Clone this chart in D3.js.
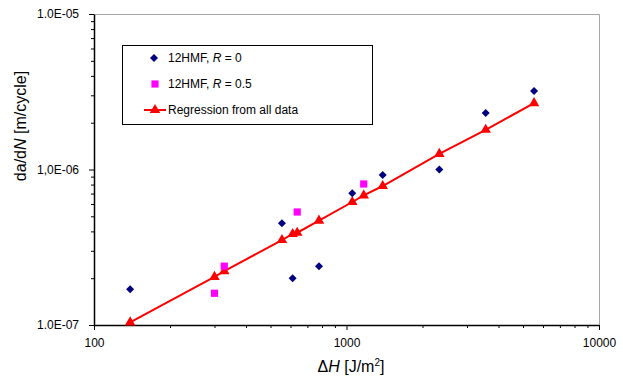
<!DOCTYPE html>
<html>
<head>
<meta charset="utf-8">
<script src="https://cdn.jsdelivr.net/npm/d3@7"></script>
<style>
  body { margin: 0; background: #fff; }
  svg { display: block; font-family: "Liberation Sans", Arial, sans-serif; }
</style>
</head>
<body>
<div id="chart"></div>
<script>
// 12HMF, R = 0
const r0X = [139, 555, 612, 778, 1054, 1391, 2331, 3558, 5530];
const r0Y = [1.70e-7, 4.51e-7, 2.0e-7, 2.39e-7, 7.03e-7, 9.22e-7, 1.0e-6, 2.31e-6, 3.2e-6];

// 12HMF, R = 0.5
const r05X = [300, 328, 638, 1170];
const r05Y = [1.60e-7, 2.39e-7, 5.33e-7, 8.07e-7];

// regression from all data
const regX = [139, 300, 328, 555, 612, 638, 778, 1054, 1170, 1391, 2331, 3558, 5530];
const regY = [1.04e-7, 2.04e-7, 2.22e-7, 3.52e-7, 3.85e-7, 3.92e-7, 4.69e-7, 6.18e-7, 6.82e-7, 7.83e-7, 1.26e-6, 1.80e-6, 2.67e-6];

const xTicks = [100, 1000, 10000];
const xTickLabels = ["100", "1000", "10000"];
const yTicks = [1e-7, 1e-6, 1e-5];
const yTickLabels = ["1.0E-07", "1,0E-06", "1.0E-05"];

const width = 623, height = 381;
const plotL = 94, plotR = 599, plotT = 14, plotB = 325;

const svg = d3.select("#chart").append("svg")
    .attr("width", width)
    .attr("height", height);

const x = d3.scaleLog().domain([100, 10000]).range([plotL, plotR]);
const y = d3.scaleLog().domain([1e-7, 1e-5]).range([plotB, plotT]);

// minor ticks: 2..9 in each decade
const minorX = [], minorY = [];
[100, 1000].forEach(d => { for (let k = 2; k <= 9; k++) minorX.push(d * k); });
[1e-7, 1e-6].forEach(d => { for (let k = 2; k <= 9; k++) minorY.push(d * k); });

// plot frame (top/right grey)
svg.append("path")
    .attr("d", `M${plotL},${plotT + 0.5}H${plotR + 0.5}V${plotB}`)
    .attr("fill", "none")
    .attr("stroke", "#a6a6a6")
    .attr("stroke-width", 1);

// x axis
const gx = svg.append("g").attr("transform", `translate(0,${plotB})`);
gx.append("g")
    .call(d3.axisBottom(x).tickValues(minorX).tickSize(3).tickFormat(""))
    .call(g => g.select(".domain").remove());
gx.append("g")
    .call(d3.axisBottom(x).tickValues(xTicks).tickSize(5).tickSizeOuter(0)
        .tickFormat((d, i) => xTickLabels[i]))
    .call(g => g.select(".domain").attr("stroke-width", 1.5));
gx.selectAll("line").attr("stroke", "#000");
gx.selectAll("text")
    .attr("font-size", 12)
    .attr("fill", "#000")
    .attr("dy", null)
    .attr("y", 22);

// y axis
const gy = svg.append("g").attr("transform", `translate(${plotL},0)`);
gy.append("g")
    .call(d3.axisLeft(y).tickValues(minorY).tickSize(3).tickFormat(""))
    .call(g => g.select(".domain").remove());
gy.append("g")
    .call(d3.axisLeft(y).tickValues(yTicks).tickSize(5).tickSizeOuter(0)
        .tickFormat((d, i) => yTickLabels[i]))
    .call(g => g.select(".domain").attr("stroke-width", 1.5));
gy.selectAll("line").attr("stroke", "#000");
gy.selectAll("text")
    .attr("font-size", 12)
    .attr("fill", "#000")
    .attr("x", -15);

// axis titles
const xt = svg.append("text")
    .attr("x", 351)
    .attr("y", 372)
    .attr("text-anchor", "middle")
    .attr("font-size", 16)
    .attr("fill", "#000");
xt.append("tspan").text("\u0394");
xt.append("tspan").attr("font-style", "italic").text("H");
xt.append("tspan").text(" [J/m");
xt.append("tspan").attr("font-size", 10).attr("dy", -6).text("2");
xt.append("tspan").attr("dy", 6).text("]");

const yt = svg.append("text")
    .attr("transform", "translate(26,126) rotate(-90)")
    .attr("text-anchor", "middle")
    .attr("font-size", 16)
    .attr("fill", "#000");
yt.append("tspan").text("da/d");
yt.append("tspan").attr("font-style", "italic").text("N");
yt.append("tspan").text(" [m/cycle]");

// symbols
const diamond = d3.symbol(d3.symbolSquare, 32);
const square = d3.symbol(d3.symbolSquare, 52);
const triangle = d3.symbol(d3.symbolTriangle, 48);

// regression line
const reg = regX.map((d, i) => ({ x: d, y: regY[i] }));
svg.append("path")
    .datum(reg)
    .attr("fill", "none")
    .attr("stroke", "#ff0000")
    .attr("stroke-width", 2)
    .attr("d", d3.line().x(d => x(d.x)).y(d => y(d.y)));

svg.append("g")
    .selectAll("path")
    .data(reg)
    .enter()
    .append("path")
    .attr("d", triangle)
    .attr("fill", "#ff0000")
    .attr("transform", d => `translate(${x(d.x)},${y(d.y)})`);

svg.append("g")
    .selectAll("path")
    .data(r05X.map((d, i) => ({ x: d, y: r05Y[i] })))
    .enter()
    .append("path")
    .attr("d", square)
    .attr("fill", "#ff00ff")
    .attr("transform", d => `translate(${x(d.x)},${y(d.y)})`);

svg.append("g")
    .selectAll("path")
    .data(r0X.map((d, i) => ({ x: d, y: r0Y[i] })))
    .enter()
    .append("path")
    .attr("d", diamond)
    .attr("fill", "#000080")
    .attr("transform", d => `translate(${x(d.x)},${y(d.y)}) rotate(45)`);

// legend
const lg = svg.append("g");
lg.append("rect")
    .attr("x", 122.5).attr("y", 45.5)
    .attr("width", 250).attr("height", 79)
    .attr("fill", "#fff")
    .attr("stroke", "#000")
    .attr("stroke-width", 1);

lg.append("path").attr("d", diamond).attr("fill", "#000080")
    .attr("transform", "translate(154,58) rotate(45)");
lg.append("path").attr("d", square).attr("fill", "#ff00ff")
    .attr("transform", "translate(155,84)");
lg.append("line")
    .attr("x1", 144).attr("x2", 166).attr("y1", 110).attr("y2", 110)
    .attr("stroke", "#ff0000").attr("stroke-width", 2);
lg.append("path").attr("d", triangle).attr("fill", "#ff0000")
    .attr("transform", "translate(155,110)");

const legendRows = [
    { y: 62, parts: ["12HMF, ", "R", " = 0"] },
    { y: 88, parts: ["12HMF, ", "R", " = 0.5"] },
    { y: 114, parts: ["Regression from all data"] },
];
legendRows.forEach(r => {
    const t = lg.append("text")
        .attr("x", 168).attr("y", r.y)
        .attr("font-size", 12)
        .attr("fill", "#000");
    r.parts.forEach((p, i) => {
        t.append("tspan").attr("font-style", i === 1 ? "italic" : null).text(p);
    });
});
</script>
</body>
</html>
